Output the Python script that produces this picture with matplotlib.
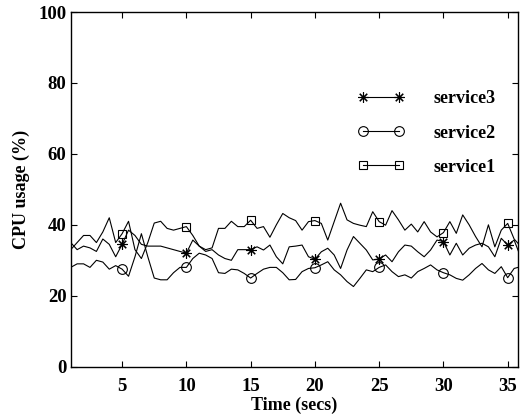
import numpy as np
import matplotlib
matplotlib.use("Agg")
import matplotlib.pyplot as plt

# sample times (every half second)
time = np.arange(1, 36.01, 0.5)

service1 = [
    33.0, 35.0, 37.0, 37.0, 35.0, 38.0, 42.0, 35.0, 37.5,
    41.0, 33.0, 30.5, 35.0, 40.5, 41.0, 39.0, 38.5, 39.0, 39.5,
    37.0, 34.0, 33.0, 33.5, 39.0, 39.0, 41.0, 39.5, 39.5, 41.3,
    39.0, 39.5, 36.5, 40.0, 43.2, 42.0, 41.2, 38.5, 40.9, 41.2,
    40.4, 35.7, 40.9, 46.1, 41.4, 40.4, 39.9, 39.5, 43.7, 40.9,
    39.9, 44.0, 41.4, 38.5, 40.2, 38.0, 40.9, 38.0, 36.6, 37.8,
    40.9, 37.6, 42.8, 40.0, 36.7, 33.8, 40.0, 33.8, 38.5, 40.4,
    36.0, 34.0,
]
service2 = [
    28.0, 29.0, 29.0, 28.0, 30.0, 29.5, 27.5, 28.5, 27.5,
    25.5, 31.0, 37.5, 31.0, 25.0, 24.5, 24.5, 26.5, 28.0, 28.0,
    30.5, 32.0, 31.5, 30.5, 26.5, 26.3, 27.5, 27.3, 26.3, 25.0,
    26.3, 27.5, 28.0, 28.0, 26.5, 24.5, 24.6, 26.8, 27.7, 27.9,
    28.7, 29.6, 27.3, 25.9, 24.0, 22.6, 24.9, 27.3, 26.8, 28.0,
    28.7, 26.8, 25.4, 25.9, 25.0, 26.8, 27.7, 28.7, 27.3, 26.5,
    25.9, 24.9, 24.4, 25.9, 27.7, 29.1, 27.3, 26.3, 28.2, 25.1,
    27.7, 28.2,
]
service3 = [
    35.0, 33.0, 34.0, 33.5, 32.5, 36.0, 34.5, 31.0, 34.5,
    38.5, 37.0, 34.5, 34.0, 34.0, 34.0, 33.5, 33.0, 32.5, 32.0,
    35.7, 34.0, 32.5, 33.0, 31.5, 30.5, 30.0, 33.0, 33.0, 33.0,
    33.8, 32.9, 34.3, 31.0, 29.0, 33.8, 34.0, 34.3, 31.0, 30.3,
    32.4, 33.4, 31.5, 27.7, 32.9, 36.7, 34.8, 32.9, 30.1, 30.4,
    31.5, 29.6, 32.4, 34.3, 34.0, 32.4, 31.0, 32.9, 35.7, 35.3,
    31.5, 34.8, 31.5, 33.4, 34.3, 34.8, 33.8, 31.0, 36.2, 34.3,
    35.7, 31.0,
]

plt.rcParams["font.family"] = "Liberation Serif"
plt.rcParams["font.weight"] = "bold"

fig = plt.figure(figsize=(5.21, 4.17), dpi=100)
ax = fig.add_axes([0.1357, 0.1206, 0.8585, 0.8506])

every = 10  # marker every 5 secs
ax.plot(time, service3, color="black", lw=0.8, marker=(8, 2, 0), ms=7.5,
        mew=0.8, markevery=(8, every), label="service3")
ax.plot(time, service2, color="black", lw=0.8, marker="o", ms=7,
        mfc="none", mew=0.8, markevery=(8, every), label="service2")
ax.plot(time, service1, color="black", lw=0.8, marker="s", ms=6,
        mfc="none", mew=0.8, markevery=(8, every), label="service1")

ax.set_xlim(1, 35.8)
ax.set_ylim(0, 100)
ax.set_xticks([5, 10, 15, 20, 25, 30, 35])
ax.set_yticks([0, 20, 40, 60, 80, 100])
ax.tick_params(direction="in", length=4, width=0.8, top=True, right=True,
               labelsize=13.5, pad=3)
ax.tick_params(axis="x", pad=8)
for lab in ax.get_xticklabels() + ax.get_yticklabels():
    lab.set_fontweight("bold")
for s in ax.spines.values():
    s.set_linewidth(1.0)

ax.set_xlabel("Time (secs)", fontsize=13, fontweight="bold", labelpad=1)
ax.set_ylabel("CPU usage (%)", fontsize=13, fontweight="bold", labelpad=6)

leg = ax.legend(loc="center", bbox_to_anchor=(0.818, 0.681),
                bbox_transform=fig.transFigure, frameon=False, numpoints=2,
                handlelength=2.6, handletextpad=1.6, labelspacing=0.95,
                prop={"size": 13, "weight": "bold"})

fig.savefig("out.png", dpi=100)
